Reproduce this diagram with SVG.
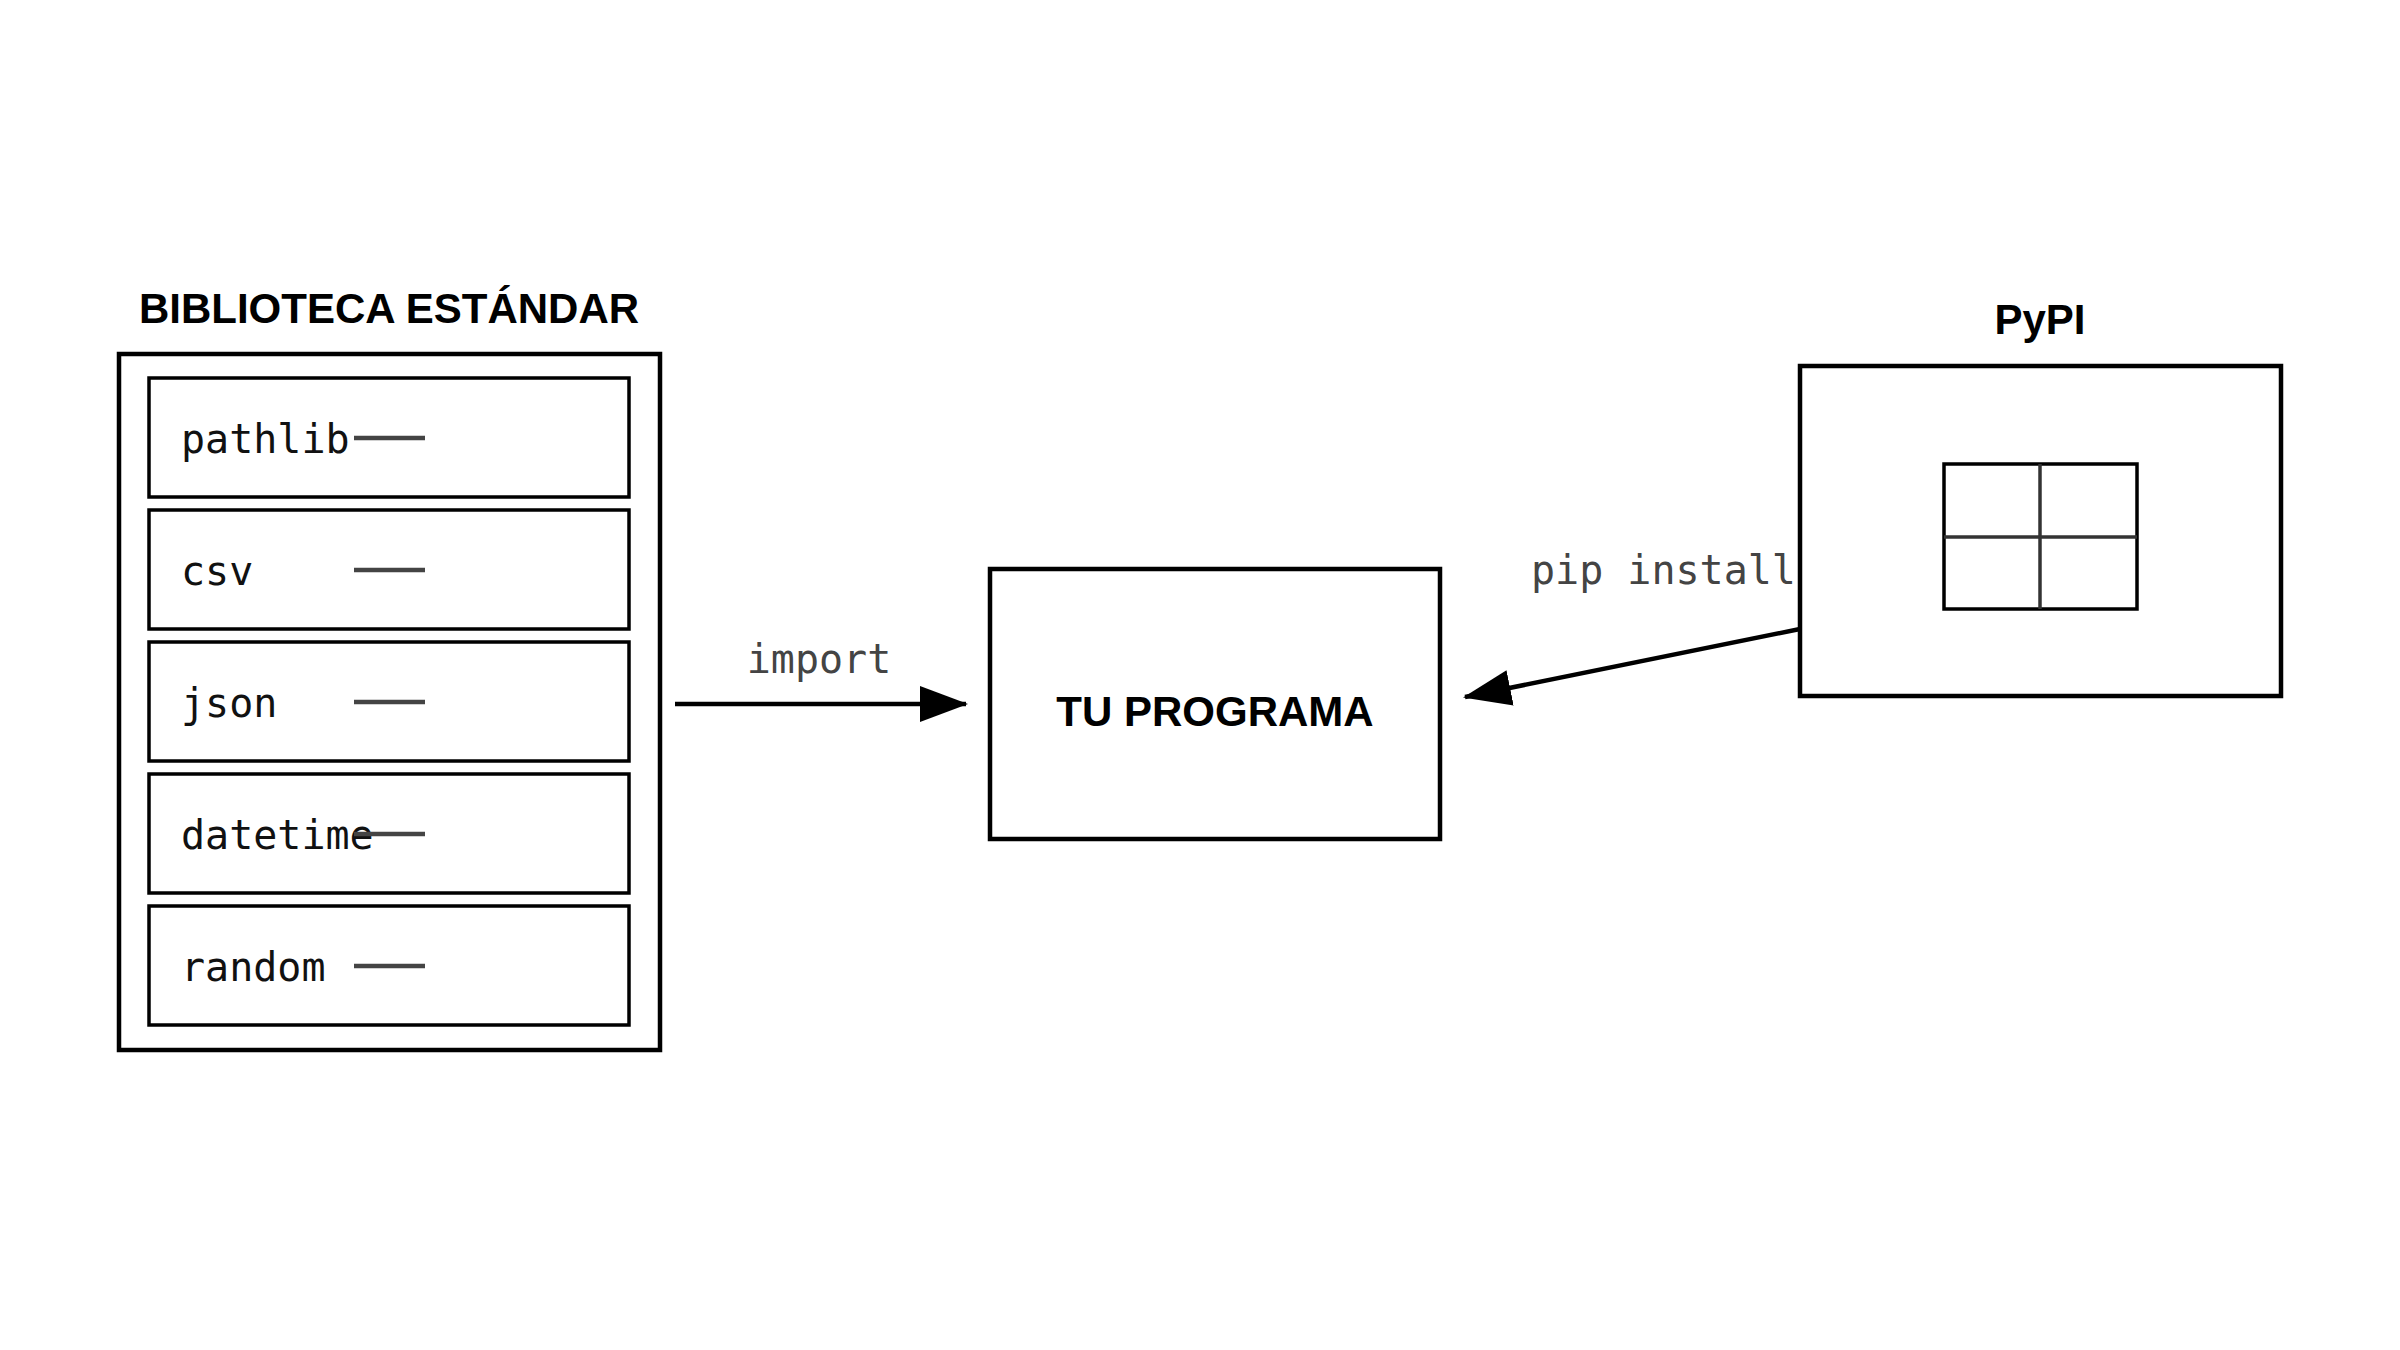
<svg xmlns="http://www.w3.org/2000/svg" width="2400" height="1350" viewBox="0 0 2400 1350">
<style>
.box{fill:#fff;stroke:#000;stroke-width:4.5}
.inner{fill:#fff;stroke:#000;stroke-width:3.5}
.title{font-family:"Liberation Sans",Arial,sans-serif;font-weight:bold;font-size:42px;fill:#000;text-anchor:middle}
.mono{font-family:"DejaVu Sans Mono","Liberation Mono",monospace;font-size:40px;fill:#111}
.lbl{font-family:"DejaVu Sans Mono","Liberation Mono",monospace;font-size:40px;fill:#444}
.dash{stroke:#444;stroke-width:4.5}
.conn{stroke:#000;stroke-width:4.5;fill:none}
</style>
<defs>
<marker id="ah2" viewBox="0 0 48 36" refX="46" refY="18" markerWidth="48" markerHeight="36" orient="auto" markerUnits="userSpaceOnUse">
<path d="M0,0 L48,18 L0,36 z" fill="#000"/>
</marker>
</defs>
<g id="stdlib">
<text class="title" x="389" y="323">BIBLIOTECA ESTÁNDAR</text>
<rect class="box" x="119" y="354" width="541" height="696"/>
<rect class="inner" x="149" y="378" width="480" height="119"/>
<rect class="inner" x="149" y="510" width="480" height="119"/>
<rect class="inner" x="149" y="642" width="480" height="119"/>
<rect class="inner" x="149" y="774" width="480" height="119"/>
<rect class="inner" x="149" y="906" width="480" height="119"/>
<text class="mono" x="181" y="453">pathlib</text>
<text class="mono" x="181" y="585">csv</text>
<text class="mono" x="181" y="717">json</text>
<text class="mono" x="181" y="849">datetime</text>
<text class="mono" x="181" y="981">random</text>
<line class="dash" x1="354" y1="438" x2="425" y2="438"/>
<line class="dash" x1="354" y1="570" x2="425" y2="570"/>
<line class="dash" x1="354" y1="702" x2="425" y2="702"/>
<line class="dash" x1="354" y1="834" x2="425" y2="834"/>
<line class="dash" x1="354" y1="966" x2="425" y2="966"/>
</g>
<g id="programa">
<rect class="box" x="990" y="569" width="450" height="270"/>
<text class="title" x="1215" y="726" font-size="47">TU PROGRAMA</text>
</g>
<g id="pypi">
<text class="title" x="2040" y="334" font-size="44">PyPI</text>
<rect class="box" x="1800" y="366" width="481" height="330"/>
<rect class="inner" x="1944" y="464" width="193" height="145"/>
<line x1="2040" y1="464" x2="2040" y2="609" stroke="#333" stroke-width="3.5"/>
<line x1="1944" y1="537" x2="2137" y2="537" stroke="#333" stroke-width="3.5"/>
</g>
<g id="connectors">
<line class="conn" x1="675" y1="704" x2="966" y2="704" marker-end="url(#ah2)"/>
<text class="lbl" x="819" y="673" text-anchor="middle">import</text>
<line class="conn" x1="1800" y1="629" x2="1465" y2="697" marker-end="url(#ah2)"/>
<text class="lbl" x="1531" y="584">pip install</text>
</g>
</svg>
